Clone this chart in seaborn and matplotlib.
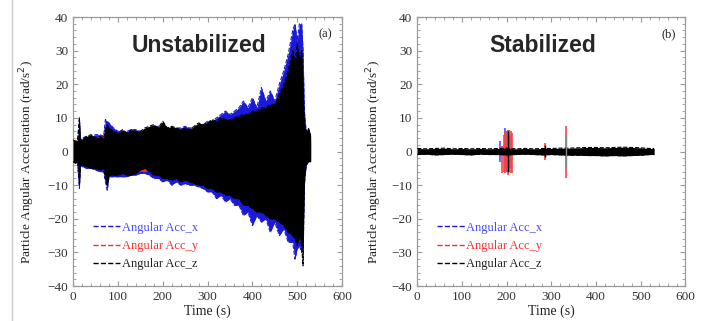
import matplotlib
matplotlib.use("Agg")
import matplotlib.pyplot as plt
from matplotlib.lines import Line2D
from matplotlib.ticker import MultipleLocator
import seaborn as sns
import pandas as pd

# ---- data (envelopes of the dense signals) ----
t_env = [0, 5, 10, 14, 16, 20, 30, 40, 50, 60, 68, 72, 76, 80, 90, 100, 110, 120,
         130, 140, 150, 160, 170, 180, 190, 200, 210, 220, 230, 240, 250, 260, 270,
         280, 290, 300, 310, 320, 330, 340, 350, 360, 370, 380, 390, 400, 410, 420,
         430, 440, 450, 460, 470, 480, 490, 495, 500, 505, 510, 513, 516, 520, 525, 530]

unstab_x_hi = [3, 3, 3, 9.5, 3, 4, 4.5, 4.5, 5, 5, 4.5, 9.5, 9, 8.5, 7, 6, 6, 6,
               6.5, 6.5, 6, 6.5, 7, 7, 7.5, 8, 7, 7, 7, 7, 7.5, 7, 7,
               8, 8, 9, 9, 10, 11, 12, 11, 12, 13, 15, 13, 16, 13, 19,
               15, 18, 15, 20, 24, 29, 36, 38, 33, 38, 38, 30, 12, 6, 5, 4]
unstab_x_lo = [-3, -3, -3.5, -11, -4, -4.5, -5, -5, -5.5, -6, -6, -9, -11.5, -7.5, -7.5, -7.5, -7.5, -7.5,
               -7, -7, -6.5, -6.5, -7, -8, -8, -9, -8.5, -10, -9, -10, -9.5, -10, -10,
               -10.5, -11, -12, -12, -14, -13, -15, -14, -16, -16, -19, -18, -22, -19, -21,
               -20, -24, -21, -25, -23, -27, -27, -32, -29, -28, -30, -26, -10, -4, -3, -3]
unstab_z_hi = [3.5, 3, 3.5, 10, 3.5, 3.5, 4.5, 5, 4, 4.5, 4, 7, 8, 7, 6, 5.5, 6.5, 5.5,
               6.5, 6, 6, 7, 7.5, 8, 7, 9, 7, 7.5, 7, 6.5, 7, 6.5, 7.5,
               8.5, 8, 8.5, 9.5, 9, 10, 9.5, 9.5, 10, 10.5, 11, 11, 12, 12, 13,
               13, 14, 14, 17, 20, 24, 30, 26, 32, 28, 30, 20, 8, 6, 7, 5]
unstab_z_lo = [-3, -3.5, -3, -10, -4, -4, -4.5, -5, -5, -5.5, -5, -8, -10, -7, -7, -7, -6.5, -7,
               -7, -6.5, -5.5, -5, -6, -7, -7, -8, -8, -8.5, -8, -9, -8.5, -9, -9.5,
               -10, -10, -11, -11, -12, -12, -13, -13, -14, -14, -16, -16, -17, -18, -18,
               -19, -20, -20, -21, -22, -24, -25, -26, -28, -25, -28, -34, -8, -4, -3, -3]

t_red = [0, 50, 100, 150, 160, 170, 200, 250, 300, 350, 400, 450, 500, 510, 514, 530]
unstab_y_hi = [3, 4, 5, 5, 5, 6, 7, 6, 7, 8, 10, 13, 20, 18, 5, 3]
unstab_y_lo = [-3, -4, -6, -5.8, -6, -5.5, -7, -8, -9, -11, -14, -18, -22, -20, -5, -2]

t_stab = [0, 20, 40, 60, 80, 100, 120, 140, 160, 180, 200, 220, 240, 260, 280,
          300, 320, 340, 360, 380, 400, 420, 440, 460, 480, 500, 520, 530]
stab_z_hi = [0.9, 0.8, 0.9, 1.0, 0.8, 0.9, 0.8, 0.9, 0.8, 0.9, 1.0, 0.8, 0.9, 0.8, 0.9,
             0.9, 1.0, 1.0, 1.1, 1.2, 1.2, 1.1, 1.2, 1.3, 1.2, 1.1, 0.9, 0.9]
stab_z_lo = [-0.9, -0.8, -1.0, -0.9, -0.8, -0.9, -1.0, -0.8, -0.9, -0.9, -1.0, -0.9, -0.8, -0.9, -1.0,
             -0.9, -1.0, -1.1, -1.1, -1.2, -1.2, -1.3, -1.2, -1.3, -1.2, -1.1, -0.9, -0.9]

# spikes in the stabilized run: time, low, high
spk_x_t = [186, 196, 200, 204, 208]
spk_x_lo = [-3, -5, -6, -6, -5]
spk_x_hi = [3, 7, 6, 6.5, 5]
spk_y_t = [190, 195, 197, 199, 202, 204, 206, 209, 212, 285, 333]
spk_y_lo = [-6.5, -6, -6.5, -6, -7, -6, -6, -6.5, -6.5, -2.5, -8]
spk_y_hi = [1.5, 5, 6, 5.5, 5.5, 6, 6.5, 6, 5.5, 2.5, 7.5]
spk_z_t = [204, 285, 333]
spk_z_lo = [-6, -1.5, -5]
spk_z_hi = [6, 2, 5]

labels = ["Angular Acc_x", "Angular Acc_y", "Angular Acc_z"]
colors = ["#1a1ad8", "#f03030", "#000000"]
text_colors = ["#4a4aff", "#ff3030", "#222222"]

sns.set_style("ticks")
plt.rcParams['font.family'] = ['Liberation Serif', 'DejaVu Serif']


def draw_band(ax, t, lo, hi, color, z):
    df = pd.DataFrame({"t": t, "lo": lo, "hi": hi})
    ax.fill_between(df["t"], df["lo"], df["hi"], color=color, lw=0, zorder=z)
    sns.lineplot(data=df, x="t", y="hi", ax=ax, color=color, lw=0.8, ls="--", zorder=z)
    sns.lineplot(data=df, x="t", y="lo", ax=ax, color=color, lw=0.8, ls="--", zorder=z)


def style_axes(ax, title, tag, label_x):
    ax.set_xlim(0, 600)
    ax.set_ylim(-40, 40)
    ax.xaxis.set_major_locator(MultipleLocator(100))
    ax.xaxis.set_minor_locator(MultipleLocator(20))
    ax.yaxis.set_major_locator(MultipleLocator(10))
    ax.yaxis.set_minor_locator(MultipleLocator(2))
    ax.tick_params(which="both", direction="in", top=True, right=True,
                   colors="#999999", labelcolor="#333333", labelsize=9.5)
    ax.tick_params(which="major", length=3.5, width=0.8)
    ax.tick_params(which="minor", length=2, width=0.6)
    for s in ax.spines.values():
        s.set_color("#999999")
        s.set_linewidth(0.9)
    ax.set_xlabel("Time (s)", fontsize=10, color="#222222", labelpad=1)
    ax.set_ylabel("Particle Angular Acceleration (rad/s$^2$)", fontsize=9.5,
                  color="#222222")
    ax.yaxis.set_label_coords(label_x, 0.46)
    ax.text(280, 31.5, title, ha="center", va="center", fontsize=16.5,
            fontweight="bold", family="Liberation Sans", zorder=10)
    ax.text(562, 35, tag, ha="center", va="center", fontsize=9, color="#222222")
    handles = [Line2D([], [], color=c, ls="--", lw=1) for c in colors]
    ax.legend(handles, labels, loc="lower left", bbox_to_anchor=(0.055, 0.04),
              frameon=False, fontsize=9, handlelength=2.2, handletextpad=0.15,
              labelspacing=0.5, labelcolor=text_colors, borderaxespad=0)


fig = plt.figure(figsize=(7.17, 3.21), dpi=100)
ax1 = fig.add_axes([0.102, 0.109, 0.375, 0.838])
ax2 = fig.add_axes([0.582, 0.109, 0.374, 0.838])

draw_band(ax1, t_env, unstab_x_lo, unstab_x_hi, colors[0], 1)
draw_band(ax1, t_red, unstab_y_lo, unstab_y_hi, colors[1], 2)
draw_band(ax1, t_env, unstab_z_lo, unstab_z_hi, colors[2], 3)
style_axes(ax1, "Unstabilized", "(a)", -0.135)

ax2.vlines(spk_x_t, spk_x_lo, spk_x_hi, color="#5050ff", lw=1.2, zorder=1)
ax2.vlines(spk_y_t, spk_y_lo, spk_y_hi, color="#ff4040", lw=1.2, zorder=2)
draw_band(ax2, t_stab, stab_z_lo, stab_z_hi, colors[2], 3)
ax2.vlines(spk_z_t, spk_z_lo, spk_z_hi, color=["#000000", "#000000", "#888888"],
           lw=1.0, zorder=4)
style_axes(ax2, "Stabilized", "(b)", -0.125)

fig.add_artist(Line2D([12 / 717, 12 / 717], [0, 1], color="#cccccc", lw=1))
fig.savefig("out.png", dpi=100)
